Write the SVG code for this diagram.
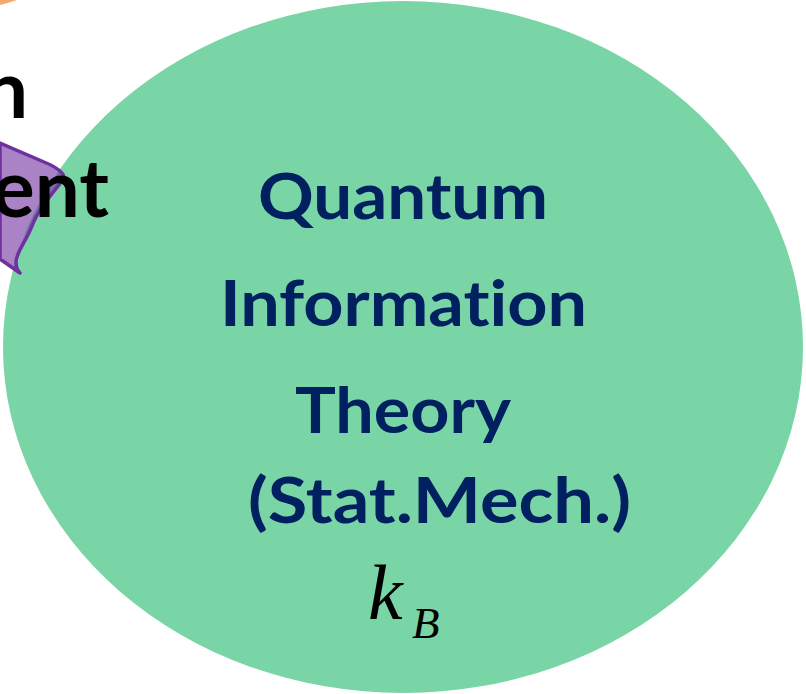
<svg xmlns="http://www.w3.org/2000/svg" width="806" height="694" viewBox="0 0 806 694">
  <style>
    .main { font-family: Lato, "Open Sans", "Liberation Sans", sans-serif; font-weight: bold; font-size: 64px; fill: #002060; font-variant-ligatures: none; }
    .side { font-family: Lato, "Open Sans", "Liberation Sans", sans-serif; font-weight: bold; font-size: 80px; fill: #000000; font-variant-ligatures: none; }
    .math { font-family: "Liberation Serif", "Times New Roman", serif; font-style: italic; fill: #000000; }
  </style>
  <rect width="806" height="694" fill="#ffffff"/>
  <g id="orange-node">
    <path d="M0,0 L17,0 Q8,3 0,5 Z" fill="#F4A96A"/>
  </g>
  <g id="green-node">
    <ellipse cx="403" cy="347" rx="400" ry="346" fill="#79D5A5"/>
    <text class="main" x="258" y="219" textLength="290" lengthAdjust="spacingAndGlyphs">Quantum</text>
    <text class="main" x="220" y="326" textLength="367" lengthAdjust="spacingAndGlyphs">Information</text>
    <text class="main" x="295" y="433" textLength="216" lengthAdjust="spacingAndGlyphs">Theory</text>
    <text class="main" x="248" y="523" textLength="383" lengthAdjust="spacingAndGlyphs">(Stat.Mech.)</text>
    <text class="math" x="368" y="619" font-size="78">k</text>
    <text class="math" x="412" y="638" font-size="45">B</text>
  </g>
  <g id="purple-node">
    <path d="M0,143 L44,162 Q54,166 60,171 Q67,177 62,181 C50,196 38,210 32,226 C26,242 16,252 16,262 Q16,269 20,273 L0,259 Z" fill="#7030A0" fill-opacity="0.6" stroke="#7030A0" stroke-width="3.5" stroke-linejoin="round"/>
  </g>
  <g id="side-text">
    <text class="side" x="28" y="118" text-anchor="end">n</text>
    <text class="side" x="109" y="217" text-anchor="end">ent</text>
  </g>
  <g id="connectors"/>
</svg>
